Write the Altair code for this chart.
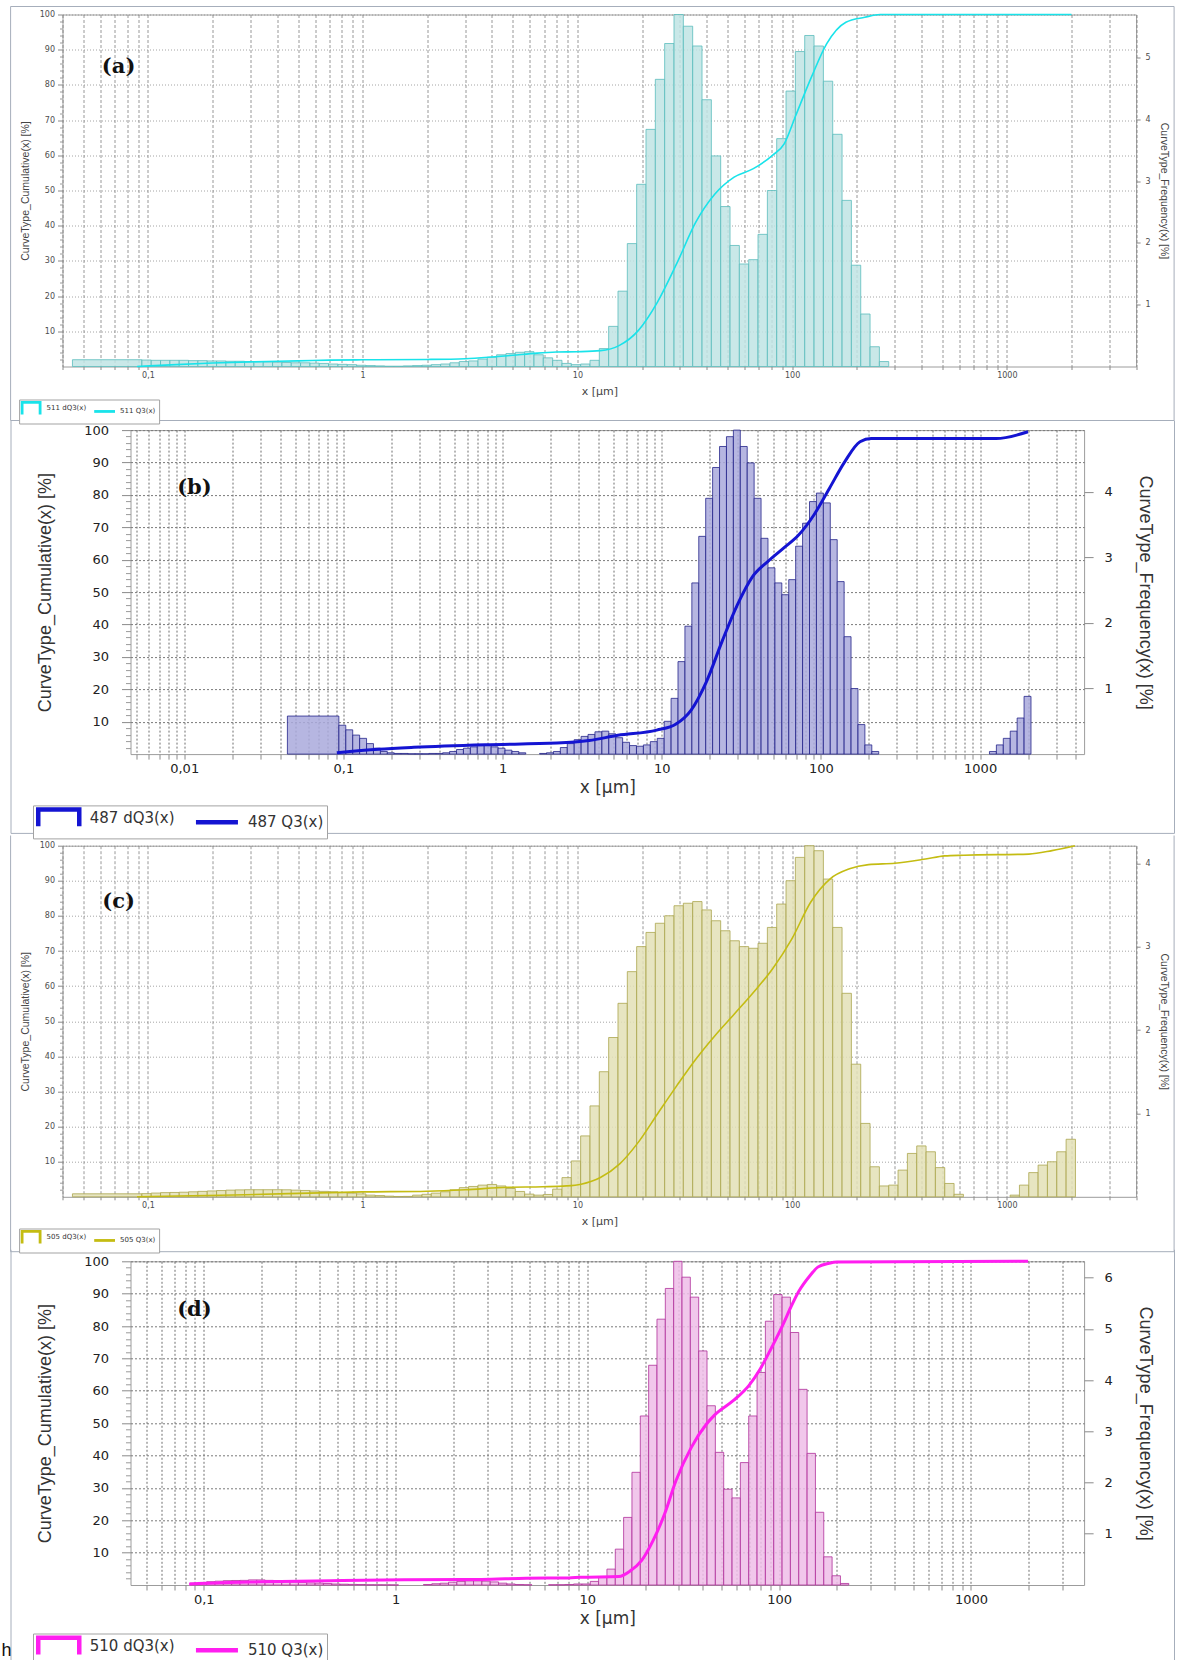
import altair as alt
import pandas as pd

# ---------------------------------------------------------------------------
# Size classes of the analyser: geometric grid with 23 classes per decade,
# plus one wide bottom class that starts at 0.0445 µm.
# ---------------------------------------------------------------------------
CLASS_OFFSET = 0.0152
CLASSES_PER_DECADE = 23
FIRST_CLASS_LO = 0.0445


def class_edge(k):
    return 10 ** (CLASS_OFFSET + k / CLASSES_PER_DECADE)


# ---------------------------------------------------------------------------
# Sample 511  (a)
# ---------------------------------------------------------------------------
A_FIRST = 0.11
A_K0 = -24
A_DQ3 = [0.105, 0.10, 0.10, 0.10, 0.10, 0.095, 0.095,
         0.09, 0.09, 0.085, 0.085, 0.08, 0.08, 0.075,
         0.07, 0.065, 0.06, 0.06, 0.055, 0.05,
         0.04, 0.035, 0.03, 0.02,
         0.015, 0.01, 0.005, 0.005, 0.01,
         0.015, 0.02, 0.03, 0.04, 0.06, 0.08, 0.09,
         0.12, 0.15, 0.19, 0.21, 0.23, 0.24, 0.19, 0.14, 0.10, 0.05, 0.03,
         0.04, 0.1, 0.29, 0.65, 1.22, 1.99, 2.95, 3.84, 4.65, 5.23, 5.7,
         5.51, 5.19, 4.32, 3.41, 2.59, 1.96, 1.66, 1.73, 2.14, 2.85, 3.69,
         4.46, 5.10, 5.36, 5.19, 4.62, 3.76, 2.69, 1.64, 0.85, 0.32, 0.08]
A_Q3_X = [0.089, 0.12, 0.2, 0.3, 0.5, 0.7, 1, 2, 3, 4, 5, 6.5, 8, 10, 12.8,
          15.7, 19.2, 23.6, 29, 35.6, 43.7, 53.7, 66, 81, 92, 104, 123, 145,
          178, 218, 257, 2000]
A_Q3 = [0, 0.4, 1.0, 1.3, 1.6, 1.8, 1.9, 2.0, 2.2, 2.7, 3.2, 3.8, 4.1, 4.2, 4.5,
        6.0, 10.2, 18.3, 29.2, 41, 49, 53.8, 56.2, 60, 63.3, 71.3, 82.2, 91.7,
        97.8, 99.2, 100, 100]

# ---------------------------------------------------------------------------
# Sample 487  (b)
# ---------------------------------------------------------------------------
B_FIRST = 0.58
B_K0 = -24
B_DQ3 = [0.44, 0.37, 0.29, 0.24, 0.16, 0.09, 0.04, 0.02,
         0.01, 0.01, 0.005, 0.005, 0.005, 0.01, 0.01,
         0.02, 0.04, 0.07, 0.09, 0.11, 0.13, 0.13, 0.11, 0.09,
         0.06, 0.04, 0.02, 0.0, 0.0, 0.01,
         0.02, 0.04, 0.1, 0.16, 0.22, 0.27, 0.3, 0.34, 0.35, 0.31, 0.25, 0.18,
         0.13, 0.12, 0.14, 0.19, 0.24,
         0.5, 0.85, 1.41, 1.95, 2.61, 3.32, 3.9, 4.37, 4.69, 4.84, 4.94, 4.69,
         4.44, 3.9, 3.29, 2.84, 2.61, 2.43, 2.66, 3.17, 3.52, 3.85, 3.98, 3.83,
         3.27, 2.63, 1.79, 1.0, 0.45, 0.14, 0.04,
         0, 0, 0, 0, 0, 0, 0, 0, 0, 0, 0, 0, 0, 0, 0, 0,
         0.04, 0.14, 0.24, 0.35, 0.55, 0.88]
B_Q3_X = [0.091, 0.166, 0.277, 0.78, 2.2, 3.5, 5.3, 9.3, 12.3, 15.3, 19.1,
          23.9, 29.8, 37.2, 46.5, 58, 72.4, 90.3, 113, 141, 176, 207, 1260,
          2000]
B_Q3 = [0.4, 1.5, 2.1, 2.9, 3.4, 4.2, 5.8, 7.4, 9.3, 13.6, 22.4, 34.7, 46,
        54.8, 59.5, 63.5, 67.6, 73.8, 82, 90.2, 96.4, 97.4, 97.4, 99.5]

# ---------------------------------------------------------------------------
# Sample 505  (c)
# ---------------------------------------------------------------------------
C_FIRST = 0.036
C_K0 = -24
C_DQ3 = [0.038, 0.045, 0.05, 0.052, 0.055, 0.06, 0.065, 0.07, 0.075, 0.08, 0.083,
         0.085, 0.085, 0.085, 0.085, 0.084,
         0.08, 0.076, 0.07, 0.065, 0.06, 0.05, 0.044, 0.035,
         0.02, 0.015, 0.008, 0.004, 0.005,
         0.02, 0.03, 0.044, 0.06, 0.084, 0.11, 0.124, 0.14, 0.148, 0.13, 0.1,
         0.064, 0.032, 0.02, 0.028, 0.092, 0.23, 0.43,
         0.73, 1.09, 1.5, 1.91, 2.32, 2.7, 3.0, 3.17, 3.28, 3.37, 3.49, 3.52,
         3.54, 3.44, 3.31, 3.19, 3.07, 3.0, 2.98, 3.04, 3.23, 3.51, 3.79, 4.07,
         4.21, 4.15, 3.81, 3.23, 2.44, 1.59, 0.88, 0.36, 0.13, 0.14, 0.32, 0.52,
         0.61, 0.54, 0.35, 0.16, 0.03,
         0, 0, 0, 0, 0,
         0.02, 0.14, 0.29, 0.38, 0.42, 0.54, 0.69]
C_Q3_X = [0.089, 0.25, 1, 2, 3, 4.75, 6.9, 8.9, 10.4, 12.8, 15.7, 19.2, 23.6,
          29, 35.6, 43.7, 53.7, 66, 81, 99.6, 122, 150, 185, 227, 301, 418,
          514, 630, 1267, 1622, 2074]
C_Q3 = [0, 0.5, 1.4, 1.6, 2.0, 2.7, 2.85, 3.1, 3.6, 5.5, 9.3, 15.5, 23.6, 31.6,
        39.2, 45.9, 52, 58.2, 64.9, 73.4, 83.9, 90.5, 93.4, 94.6, 95.0, 96.2,
        97.1, 97.3, 97.6, 98.6, 100]

# ---------------------------------------------------------------------------
# Sample 510  (d)
# ---------------------------------------------------------------------------
D_FIRST = None
D_K0 = -25
D_DQ3 = [0.036, 0.05, 0.065, 0.075, 0.085, 0.088, 0.09, 0.1, 0.1, 0.09, 0.085,
         0.075, 0.06, 0.05, 0.04, 0.036, 0.03, 0.02, 0.016, 0.012, 0.01,
         0.005, 0.004, 0.003, 0.002, 0, 0, 0,
         0.01, 0.025, 0.035, 0.055, 0.07, 0.08, 0.08, 0.075, 0.06, 0.036, 0.02,
         0.01, 0.005, 0, 0, 0.005, 0.005, 0.01, 0.02, 0.02,
         0.07, 0.15, 0.31, 0.7, 1.32, 2.2, 3.3, 4.29, 5.19, 5.79, 6.32, 6.01,
         5.62, 4.57, 3.5, 2.59, 1.87, 1.7, 2.39, 3.3, 4.15, 5.15, 5.67, 5.62,
         4.93, 3.82, 2.57, 1.42, 0.55, 0.18, 0.03]
D_Q3_X = [0.084, 0.122, 0.176, 0.254, 0.53, 1.1, 2.8, 4.8, 8, 9.2, 14.6, 16.7,
          19.2, 22, 25.3, 29, 34.9, 41.9, 45.9, 57.8, 69.5, 79.8, 91.6, 105,
          115, 126, 145, 159, 182, 200, 1986]
D_Q3 = [0.3, 0.7, 0.9, 1.1, 1.4, 1.6, 1.7, 2.1, 2.2, 2.4, 2.6, 4.3, 7.6, 13.7,
        22, 32.3, 42.6, 49.8, 52.4, 57, 61.6, 66.8, 73.5, 80.6, 85.8, 90.5,
        95.6, 98.2, 99.4, 99.8, 100]

# ---------------------------------------------------------------------------
# Text
# ---------------------------------------------------------------------------
X_TITLE = "x [µm]"
Y_LEFT_TITLE = "CurveType_Cumulative(x) [%]"
Y_RIGHT_TITLE = "CurveType_Frequency(x) [%]"
CUM_TICKS = [10, 20, 30, 40, 50, 60, 70, 80, 90, 100]
CUM_MINOR = [v for v in range(2, 100, 2) if v % 10]

BOX_SMALL = "M-2.25,1.5L-2.25,-1.5L2.25,-1.5L2.25,1.5"
LINE_SMALL = "M-2.6,0L2.6,0"
BOX_LARGE = "M-2.93,1.2L-2.93,-1.2L2.93,-1.2L2.93,1.2"
LINE_LARGE = "M-3,0L3,0"

FRAME_COLOR = "#a6aebb"
ROW_STEP = 415.6          # vertical distance between the panel rows
INDENT_NARROW = 68.6      # left indent of the narrower panels (b, d)

STYLES = {
    "small": dict(
        lab_font="DejaVu Sans", lab_size=8, lab_color="#4d4d4d",
        ytitle_font="Liberation Sans, Arial, sans-serif", ytitle_size=10.5,
        xtitle_font="DejaVu Sans", xtitle_size=11, title_color="#444444",
        x_tick=3, x_pad=2, x_ext=12, x_tpad=6.5,
        l_tick=5, l_pad=3, l_ext=22, l_tpad=9.6, minor_tick=3,
        r_tick=4, r_pad=5, r_ext=13, r_tpad=9.2,
        vgrid="#7d7d7d", vdash=[3, 2], hgrid="#8e8e8e", hdash=[1, 2], gw=0.8,
        leg_font=7, leg_size=64, leg_sw=2.8, leg_soff=3.5, leg_loff=10,
        leg_col=1.5, box=BOX_SMALL, seg=LINE_SMALL,
    ),
    "large": dict(
        lab_font="DejaVu Sans", lab_size=13, lab_color="#222222",
        ytitle_font="Liberation Sans Narrow, Arial Narrow, Liberation Sans, sans-serif",
        ytitle_size=18,
        xtitle_font="DejaVu Sans", xtitle_size=17, title_color="#333333",
        x_tick=5, x_pad=3, x_ext=18, x_tpad=7.5,
        l_tick=9, l_pad=13, l_ext=47, l_tpad=29, minor_tick=5,
        r_tick=9, r_pad=11, r_ext=30, r_tpad=21,
        vgrid="#6f6f6f", vdash=[2, 2], hgrid="#7a7a7a", hdash=[2, 2], gw=1,
        leg_font=15, leg_size=196, leg_sw=4.5, leg_soff=13.25, leg_loff=21.5,
        leg_col=11.2, box=BOX_LARGE, seg=LINE_LARGE,
    ),
}

PANELS = {
    "a": dict(sample="511", tag="(a)", tag_at=(0.073, 85), style="small", indent=1,
              width=1073.6, height=352, xdom=[0.04, 4000], vmax=5.7,
              right_ticks=[1, 2, 3, 4, 5], first=A_FIRST, k0=A_K0, dq3=A_DQ3,
              qx=A_Q3_X, q=A_Q3, line="#19e3ea", lw=1.6,
              fill="#bfe4e4", edge="#5abcbc",
              legend_at=(-43.4, 385), frame=(-51.9, 1111.6, -8, 406), top_line=True),
    "b": dict(sample="487", tag="(b)", tag_at=(0.0116, 82), style="large",
              indent=INDENT_NARROW,
              width=953.6, height=324, xdom=[0.0046, 4500], vmax=4.94,
              right_ticks=[1, 2, 3, 4], first=B_FIRST, k0=B_K0, dq3=B_DQ3,
              qx=B_Q3_X, q=B_Q3, line="#1414d2", lw=3,
              fill="#a9a9dc", edge="#24248a",
              legend_at=(-97.5, 375.3), frame=(-119.5, 1044, -9.6, 403.3), top_line=False),
    "c": dict(sample="505", tag="(c)", tag_at=(0.073, 84), style="small", indent=1,
              width=1073.6, height=351.1, xdom=[0.04, 4000], vmax=4.21,
              right_ticks=[1, 2, 3, 4], first=C_FIRST, k0=C_K0, dq3=C_DQ3,
              qx=C_Q3_X, q=C_Q3, line="#c4bc12", lw=1.6,
              fill="#e3e1b6", edge="#aba64e",
              legend_at=(-43.4, 382.8), frame=(-51.9, 1111.6, -10.2, 406), top_line=False),
    "d": dict(sample="510", tag="(d)", tag_at=(0.0894, 85), style="large",
              indent=INDENT_NARROW,
              width=953.6, height=323.7, xdom=[0.0415, 3890], vmax=6.32,
              right_ticks=[1, 2, 3, 4, 5, 6], first=D_FIRST, k0=D_K0, dq3=D_DQ3,
              qx=D_Q3_X, q=D_Q3, line="#ff1ef0", lw=3,
              fill="#efbde8", edge="#b0309a",
              legend_at=(-97.5, 372.2), frame=(-119.5, 1044, -11.5, 420), top_line=False),
}

DECADE_LABELS = ("indexof([0.001, 0.01, 0.1, 1, 10, 100, 1000, 10000], datum.value) >= 0"
                 " ? replace(toString(datum.value), '.', ',') : ''")


def log_grid(lo, hi):
    vals = []
    for e in range(-4, 5):
        for m in range(1, 10):
            v = float(f"{m}e{e}")
            if lo * 0.999 <= v <= hi * 1.001:
                vals.append(v)
    return vals


def bar_table(first, k0, vals):
    rows = []
    if first is not None:
        rows.append({"lo": FIRST_CLASS_LO, "hi": class_edge(k0), "v": first})
    for i, v in enumerate(vals):
        if v > 0:
            k = k0 + i
            rows.append({"lo": class_edge(k), "hi": class_edge(k + 1), "v": v})
    return pd.DataFrame(rows)


ONE_ROW = pd.DataFrame({"f": [0]})


def vrule(x, y1, y2, color):
    return alt.Chart(ONE_ROW).mark_rule(color=color, strokeWidth=1).encode(
        x=alt.value(x), y=alt.value(y1), y2=alt.value(y2))


def hrule(y, x1, x2, color):
    return alt.Chart(ONE_ROW).mark_rule(color=color, strokeWidth=1).encode(
        y=alt.value(y), x=alt.value(x1), x2=alt.value(x2))


def make_panel(p, with_h=False):
    s = STYLES[p["style"]]
    xs = alt.Scale(type="log", domain=p["xdom"], nice=False)
    ys_cum = alt.Scale(domain=[0, 100], nice=False)
    ys_freq = alt.Scale(domain=[0, p["vmax"]], nice=False, zero=True)

    x_axis = alt.Axis(
        values=log_grid(*p["xdom"]), labelExpr=DECADE_LABELS, title=X_TITLE,
        labelFont=s["lab_font"], labelFontSize=s["lab_size"], labelColor=s["lab_color"],
        labelPadding=s["x_pad"], tickSize=s["x_tick"], tickColor="#8a8a8a",
        domain=False, grid=True, gridColor=s["vgrid"], gridDash=s["vdash"],
        gridWidth=s["gw"], gridOpacity=1, labelOverlap=False, labelFlush=False,
        titleFont=s["xtitle_font"], titleFontSize=s["xtitle_size"],
        titleFontWeight="normal", titleColor=s["title_color"],
        titlePadding=s["x_tpad"], minExtent=s["x_ext"], maxExtent=s["x_ext"],
    )
    left_axis = alt.Axis(
        orient="left", values=CUM_TICKS, title=Y_LEFT_TITLE,
        labelFont=s["lab_font"], labelFontSize=s["lab_size"], labelColor=s["lab_color"],
        labelPadding=s["l_pad"], tickSize=s["l_tick"], tickColor="#8a8a8a",
        domain=False, grid=True, gridColor=s["hgrid"], gridDash=s["hdash"],
        gridWidth=s["gw"], gridOpacity=1,
        titleFont=s["ytitle_font"], titleFontSize=s["ytitle_size"],
        titleFontWeight="normal", titleColor=s["title_color"],
        titlePadding=s["l_tpad"], minExtent=s["l_ext"], maxExtent=s["l_ext"],
    )
    minor_axis = alt.Axis(
        orient="left", values=CUM_MINOR, labels=False, ticks=True,
        tickSize=s["minor_tick"], tickColor="#9a9a9a", grid=False, domain=False,
        title=None,
    )
    right_axis = alt.Axis(
        orient="right", values=p["right_ticks"], title=Y_RIGHT_TITLE,
        labelFont=s["lab_font"], labelFontSize=s["lab_size"], labelColor=s["lab_color"],
        labelPadding=s["r_pad"], tickSize=s["r_tick"], tickColor="#8a8a8a",
        domain=False, grid=False,
        titleFont=s["ytitle_font"], titleFontSize=s["ytitle_size"],
        titleFontWeight="normal", titleColor=s["title_color"],
        titlePadding=s["r_tpad"], minExtent=s["r_ext"], maxExtent=s["r_ext"],
    )

    # frequency histogram dQ3 (right axis)
    bars = alt.Chart(bar_table(p["first"], p["k0"], p["dq3"])).mark_rect(
        fill=p["fill"], fillOpacity=0.85, stroke=p["edge"], strokeWidth=0.8
    ).encode(
        x=alt.X("lo:Q", scale=xs, axis=x_axis),
        x2="hi:Q",
        y=alt.Y("v:Q", scale=ys_freq, axis=right_axis),
        y2=alt.datum(0),
    )

    # cumulative curve Q3 (left axis)
    cum = alt.Chart(pd.DataFrame({"x": p["qx"], "q": p["q"]})).mark_line(
        color=p["line"], strokeWidth=p["lw"], interpolate="monotone"
    ).encode(
        x=alt.X("x:Q", scale=xs, axis=x_axis),
        y=alt.Y("q:Q", scale=ys_cum, axis=left_axis),
    )

    # panel tag, also carries the minor ticks of the cumulative axis
    tag = alt.Chart(pd.DataFrame({"t": [p["tag"]]})).mark_text(
        font="DejaVu Serif", fontWeight="bold", fontSize=21, color="#111111"
    ).encode(
        text="t:N",
        x=alt.X(datum=p["tag_at"][0], type="quantitative", scale=xs, axis=x_axis),
        y=alt.Y(datum=p["tag_at"][1], type="quantitative", scale=ys_cum, axis=minor_axis),
    )

    names = [f"{p['sample']} dQ3(x)", f"{p['sample']} Q3(x)"]
    legend = alt.Legend(
        orient="none", legendX=p["legend_at"][0], legendY=p["legend_at"][1],
        direction="horizontal", title=None,
        labelFont="DejaVu Sans", labelFontSize=s["leg_font"], labelColor="#333333",
        symbolSize=s["leg_size"], symbolStrokeWidth=s["leg_sw"], symbolOpacity=1,
        symbolOffset=s["leg_soff"], labelOffset=s["leg_loff"],
        columnPadding=s["leg_col"], padding=3,
        strokeColor="#a3a3a3", fillColor="#ffffff",
    )
    key = alt.Chart(pd.DataFrame({"s": names})).transform_filter("false").mark_point(
        filled=False
    ).encode(
        color=alt.Color("s:N", scale=alt.Scale(domain=names, range=[p["line"], p["line"]]),
                        legend=legend),
        shape=alt.Shape("s:N", scale=alt.Scale(domain=names, range=[s["box"], s["seg"]]),
                        legend=legend),
    )

    # panel frame: left, right and bottom border (top border only on the first panel)
    fl, fr, ft, fb = p["frame"]
    frame = [
        vrule(fl, ft, fb, FRAME_COLOR),
        vrule(fr, ft, fb, FRAME_COLOR),
        hrule(fb, fl, fr, FRAME_COLOR),
    ]
    if p["top_line"]:
        frame.append(hrule(ft, fl, fr, FRAME_COLOR))

    layers = [bars, cum, tag, key] + frame
    if with_h:
        layers.append(
            alt.Chart(pd.DataFrame({"t": ["h"]})).mark_text(
                align="left", baseline="middle", font="Liberation Sans, Arial, sans-serif",
                fontSize=18, color="#111111"
            ).encode(text="t:N", x=alt.value(fl - 9.5), y=alt.value(389.3))
        )

    return alt.layer(*layers).resolve_scale(y="independent").properties(
        width=p["width"], height=p["height"]
    )


def spacer(w, h):
    return alt.Chart(pd.DataFrame({"z": [0]})).mark_point(opacity=0).encode(
        x=alt.X("z:Q", axis=None), y=alt.Y("z:Q", axis=None)
    ).properties(width=w, height=h,
                 view=alt.ViewBackground(fill="transparent", stroke="transparent"))


def indep(ch):
    return ch.resolve_scale(color="independent", shape="independent").resolve_legend(
        color="independent", shape="independent")


def row(key, with_h=False):
    p = PANELS[key]
    return indep(alt.hconcat(spacer(p["indent"], p["height"]), make_panel(p, with_h),
                             spacing=0, bounds="flush"))


# rows are placed on a fixed vertical step, each indented by its spacer
chart = indep(alt.vconcat(row("a"), row("b"), row("c"), row("d", with_h=True),
                          spacing=ROW_STEP, bounds="flush")).properties(
    padding={"left": 0.5, "top": 5.5, "right": 0, "bottom": 0}
).configure_view(fill="#dedede", stroke="#9c9c9c", strokeWidth=1)

chart.save("out.html", embed_options={"renderer": "svg", "actions": False})
